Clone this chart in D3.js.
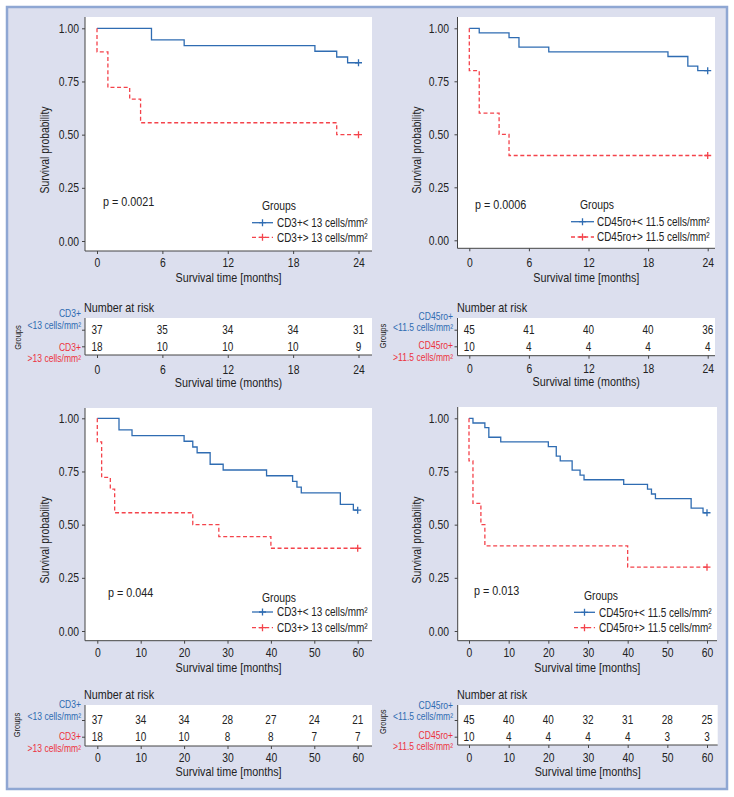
<!DOCTYPE html>
<html><head><meta charset="utf-8">
<script src="https://cdn.jsdelivr.net/npm/d3@7"></script>
<style>
html,body{margin:0;padding:0;background:#fff;}
svg{display:block;}
text{font-family:'Liberation Sans',Arial,Helvetica,sans-serif;fill:#222;}
</style></head>
<body>
<script>
// ---------------- DATA ----------------
// Panel A: CD3+, 24 months
const aLowTime  = [0, 5, 8, 20, 22, 23, 24];
const aLowSurv  = [1, 0.946, 0.919, 0.892, 0.865, 0.838, 0.838];
const aHighTime = [0, 0, 1, 3, 4, 22, 24];
const aHighSurv = [1, 0.889, 0.722, 0.667, 0.556, 0.5, 0.5];
const aRiskTimes = [0, 6, 12, 18, 24];
const aRiskLow   = [37, 35, 34, 34, 31];
const aRiskHigh  = [18, 10, 10, 10, 9];

// Panel B: CD45ro+, 24 months
const bLowTime  = [0, 1, 4, 5, 8, 20, 22, 23, 24];
const bLowSurv  = [1, 0.978, 0.956, 0.911, 0.889, 0.867, 0.822, 0.8, 0.8];
const bHighTime = [0, 0, 1, 3, 4, 24];
const bHighSurv = [1, 0.8, 0.6, 0.5, 0.4, 0.4];
const bRiskTimes = [0, 6, 12, 18, 24];
const bRiskLow   = [45, 41, 40, 40, 36];
const bRiskHigh  = [10, 4, 4, 4, 4];

// Panel C: CD3+, 60 months
const cLowTime  = [0, 5, 8, 20, 22, 23, 26, 29, 39, 45, 46, 47, 56, 59, 60];
const cLowSurv  = [1, 0.946, 0.919, 0.892, 0.865, 0.838, 0.784, 0.757, 0.730, 0.703, 0.676, 0.649, 0.595, 0.568, 0.568];
const cHighTime = [0, 0, 1, 3, 4, 22, 28, 40, 60];
const cHighSurv = [1, 0.889, 0.722, 0.667, 0.556, 0.5, 0.444, 0.389, 0.389];
const cRiskTimes = [0, 10, 20, 30, 40, 50, 60];
const cRiskLow   = [37, 34, 34, 28, 27, 24, 21];
const cRiskHigh  = [18, 10, 10, 8, 8, 7, 7];

// Panel D: CD45ro+, 60 months
const dLowTime  = [0, 1, 4, 5, 8, 20, 22, 23, 26, 28, 29, 39, 45, 46, 47, 56, 59, 60];
const dLowSurv  = [1, 0.978, 0.956, 0.911, 0.889, 0.867, 0.822, 0.8, 0.756, 0.733, 0.711, 0.689, 0.667, 0.644, 0.622, 0.578, 0.556, 0.556];
const dHighTime = [0, 0, 1, 3, 4, 40, 60];
const dHighSurv = [1, 0.8, 0.6, 0.5, 0.4, 0.3, 0.3];
const dRiskTimes = [0, 10, 20, 30, 40, 50, 60];
const dRiskLow   = [45, 40, 40, 32, 31, 28, 25];
const dRiskHigh  = [10, 4, 4, 4, 4, 3, 3];

const yTicks = [0, 0.25, 0.5, 0.75, 1];
const pValues = ["p = 0.0021", "p = 0.0006", "p = 0.044", "p = 0.013"];
const cd3Legend  = ["CD3+< 13 cells/mm²", "CD3+> 13 cells/mm²"];
const cd45Legend = ["CD45ro+< 11.5 cells/mm²", "CD45ro+> 11.5 cells/mm²"];
const cd3Risk  = [["CD3+", "<13 cells/mm²"], ["CD3+", ">13 cells/mm²"]];
const cd45Risk = [["CD45ro+", "<11.5 cells/mm²"], ["CD45ro+", ">11.5 cells/mm²"]];

// ---------------- STYLE ----------------
const BLUE = "#2f6cb2", RED = "#f4434b";
const BLUE_T = "#2f6cb2", RED_T = "#ec3340";
const AXIS = "#444";
const SX = 0.83; // horizontal condensing of the font

const W = 734, H = 797;
const svg = d3.select("body").append("svg").attr("width", W).attr("height", H);
svg.append("rect").attr("x", 0).attr("y", 0).attr("width", W).attr("height", H).attr("fill", "#fff");
svg.append("rect").attr("x", 7).attr("y", 7).attr("width", 720).attr("height", 782)
  .attr("fill", "#dcdfee").attr("stroke", "#8fa7d3").attr("stroke-width", 2.5);

const panels = [
  { low:[aLowTime,aLowSurv], high:[aHighTime,aHighSurv], xmax:24, xticks:aRiskTimes,
    risk:[aRiskLow,aRiskHigh], legend:cd3Legend, riskLab:cd3Risk, p:pValues[0], riskTitle:"Survival time (months)",
    rect:[85,372,17,251], xr:[97,358.5], yr:[241,28.3], ytx:79, xtl:263, xtt:278, ylab:[45,150],
    pPos:[103,202], legT:[262,206], legRows:[222.7,237.3], legLine:[252,273], legText:277,
    rRect:[85,372,318,355], rRows:[329.7,346.3], nar:[84,308], rlabX:81, rlab:[[313.5,325.3],[347,358.3]],
    grp:[18,337.5], rtl:369.5, rtt:383 },
  { low:[bLowTime,bLowSurv], high:[bHighTime,bHighSurv], xmax:24, xticks:bRiskTimes,
    risk:[bRiskLow,bRiskHigh], legend:cd45Legend, riskLab:cd45Risk, p:pValues[1], riskTitle:"Survival time (months)",
    rect:[457.5,715,17,248.3], xr:[469.3,707.7], yr:[240.3,28.3], ytx:449, xtl:263, xtt:278, ylab:[417,150],
    pPos:[475,205], legT:[580,205], legRows:[221.7,237], legLine:[571,594], legText:597,
    rRect:[457.5,715,318,355.7], rRows:[329.7,346.3], nar:[457,308], rlabX:453, rlab:[[316.3,327.7],[345,356.7]],
    grp:[383.7,336], rtl:368.7, rtt:382 },
  { low:[cLowTime,cLowSurv], high:[cHighTime,cHighSurv], xmax:60, xticks:cRiskTimes,
    risk:[cRiskLow,cRiskHigh], legend:cd3Legend, riskLab:cd3Risk, p:pValues[2], riskTitle:"Survival time [months]",
    rect:[85,372,408,640.7], xr:[97.3,357.7], yr:[631,418.3], ytx:79, xtl:653, xtt:668, ylab:[45,540],
    pPos:[108,593], legT:[262,598], legRows:[612,627.7], legLine:[252,273], legText:277,
    rRect:[85,372,705,746], rRows:[720,736.7], nar:[84,695], rlabX:81, rlab:[[704.5,716],[736.3,748]],
    grp:[17,725], rtl:758, rtt:772 },
  { low:[dLowTime,dLowSurv], high:[dHighTime,dHighSurv], xmax:60, xticks:dRiskTimes,
    risk:[dRiskLow,dRiskHigh], legend:cd45Legend, riskLab:cd45Risk, p:pValues[3], riskTitle:"Survival time [months]",
    rect:[457.7,717,407,640.7], xr:[469,707], yr:[631,418.3], ytx:449, xtl:653, xtt:668, ylab:[417,540],
    pPos:[474,591], legT:[584,596], legRows:[612.3,627.7], legLine:[574,595], legText:599,
    rRect:[457.7,717.7,705,745], rRows:[720,736.7], nar:[457,695], rlabX:453, rlab:[[705,716],[734.8,746.3]],
    grp:[383.7,721.7], rtl:758, rtt:772 }
];

function plus(g, x, y, color, s) {
  g.append("path").attr("d", `M${x-s},${y}H${x+s}M${x},${y-s}V${y+s}`)
    .attr("stroke", color).attr("stroke-width", 1.3).attr("fill", "none");
}

panels.forEach(P => {
  const g = svg.append("g");
  const [rx0, rx1, ry0, ry1] = P.rect;
  g.append("rect").attr("x", rx0).attr("y", ry0).attr("width", rx1 - rx0).attr("height", ry1 - ry0).attr("fill", "#fff");

  const x = d3.scaleLinear().domain([0, P.xmax]).range(P.xr);
  const y = d3.scaleLinear().domain([0, 1]).range(P.yr);

  // axes
  const ya = g.append("g").attr("transform", `translate(${rx0},0)`)
    .call(d3.axisLeft(y).tickValues(yTicks).tickFormat(d3.format(".2f")).tickSize(3).tickPadding(3));
  ya.select(".domain").remove();
  ya.selectAll("line").attr("stroke", AXIS);
  ya.selectAll("text").attr("font-size", 12.5).attr("fill", "#222").attr("x", P.ytx - rx0);

  const xa = g.append("g").attr("transform", `translate(0,${ry1})`)
    .call(d3.axisBottom(x).tickValues(P.xticks).tickSize(3).tickPadding(3));
  xa.select(".domain").remove();
  xa.selectAll("line").attr("stroke", AXIS);
  xa.selectAll("text").attr("font-size", 12.5).attr("fill", "#222").attr("dy", null)
    .attr("y", P.xtl - ry1).attr("dominant-baseline", "central");

  g.append("path").attr("d", `M${rx0},${ry0}V${ry1}H${rx1}`).attr("stroke", AXIS).attr("stroke-width", 1).attr("fill", "none");

  // curves
  const line = d3.line().x(d => x(d[0])).y(d => y(d[1])).curve(d3.curveStepAfter);
  const series = [[P.low, BLUE, null], [P.high, RED, "4,2.6"]];
  series.forEach(([s, col, dash]) => {
    const pts = s[0].map((t, i) => [t, s[1][i]]);
    g.append("path").datum(pts).attr("d", line).attr("fill", "none")
      .attr("stroke", col).attr("stroke-width", 1.3).attr("stroke-dasharray", dash);
    const last = pts[pts.length - 1];
    plus(g, x(last[0]), y(last[1]), col, 3.5);
  });

  // titles
  g.append("text").attr("x", (rx0 + rx1) / 2).attr("y", P.xtt).attr("text-anchor", "middle")
    .attr("dominant-baseline", "central").attr("font-size", 13).text("Survival time [months]");
  g.append("text").attr("transform", `translate(${P.ylab[0]},${P.ylab[1]}) rotate(-90)`)
    .attr("text-anchor", "middle").attr("dominant-baseline", "central").attr("font-size", 12.5).text("Survival probability");

  g.append("text").attr("x", P.pPos[0]).attr("y", P.pPos[1]).attr("dominant-baseline", "central")
    .attr("font-size", 13).text(P.p);

  // legend
  g.append("text").attr("x", P.legT[0]).attr("y", P.legT[1]).attr("dominant-baseline", "central")
    .attr("font-size", 12.5).text("Groups");
  [[BLUE, null], [RED, "4,2.6"]].forEach(([col, dash], i) => {
    const ly = P.legRows[i];
    g.append("line").attr("x1", P.legLine[0]).attr("x2", P.legLine[1]).attr("y1", ly).attr("y2", ly)
      .attr("stroke", col).attr("stroke-width", 1.3).attr("stroke-dasharray", dash);
    plus(g, (P.legLine[0] + P.legLine[1]) / 2, ly, col, 3.5);
    g.append("text").attr("x", P.legText).attr("y", ly).attr("dominant-baseline", "central")
      .attr("font-size", 12).text(P.legend[i]);
  });

  // risk table
  const [tx0, tx1, ty0, ty1] = P.rRect;
  g.append("rect").attr("x", tx0).attr("y", ty0).attr("width", tx1 - tx0).attr("height", ty1 - ty0).attr("fill", "#fff");
  const ry = d3.scalePoint().domain(["low", "high"]).range(P.rRows);
  const rxa = g.append("g").attr("transform", `translate(0,${ty1})`)
    .call(d3.axisBottom(x).tickValues(P.xticks).tickSize(3).tickPadding(3));
  rxa.select(".domain").remove();
  rxa.selectAll("line").attr("stroke", AXIS);
  rxa.selectAll("text").attr("font-size", 12.5).attr("fill", "#222").attr("dy", null)
    .attr("y", P.rtl - ty1).attr("dominant-baseline", "central");
  const rya = g.append("g").attr("transform", `translate(${tx0},0)`)
    .call(d3.axisLeft(ry).tickSize(3).tickFormat(""));
  rya.select(".domain").remove();
  rya.selectAll("line").attr("stroke", AXIS);
  g.append("path").attr("d", `M${tx0},${ty0}V${ty1}H${tx1}`).attr("stroke", AXIS).attr("fill", "none");

  ["low", "high"].forEach((k, i) => {
    g.selectAll(null).data(P.xticks).enter().append("text")
      .attr("x", d => x(d)).attr("y", ry(k)).attr("text-anchor", "middle").attr("dominant-baseline", "central")
      .attr("font-size", 12).text((d, j) => P.risk[i][j]);
    const col = i === 0 ? BLUE_T : RED_T;
    P.riskLab[i].forEach((s, j) => {
      g.append("text").attr("x", P.rlabX).attr("y", P.rlab[i][j]).attr("text-anchor", "end")
        .attr("dominant-baseline", "central").attr("font-size", 10.3).style("fill", col).text(s);
    });
  });
  g.append("text").attr("x", P.nar[0]).attr("y", P.nar[1]).attr("dominant-baseline", "central")
    .attr("font-size", 13).text("Number at risk");
  g.append("text").attr("transform", `translate(${P.grp[0]},${P.grp[1]}) rotate(-90)`)
    .attr("text-anchor", "middle").attr("dominant-baseline", "central").attr("font-size", 9).text("Groups");
  g.append("text").attr("x", (tx0 + tx1) / 2).attr("y", P.rtt).attr("text-anchor", "middle")
    .attr("dominant-baseline", "central").attr("font-size", 13).text(P.riskTitle);
});

// condense every text horizontally (the reference uses a narrow typeface)
svg.selectAll("text").each(function () {
  const el = d3.select(this);
  const x0 = +el.attr("x") || 0;
  el.attr("x", x0 / SX);
  const tr = el.attr("transform") || "";
  el.attr("transform", (tr + ` scale(${SX},1)`).trim());
});
</script>
</body></html>
